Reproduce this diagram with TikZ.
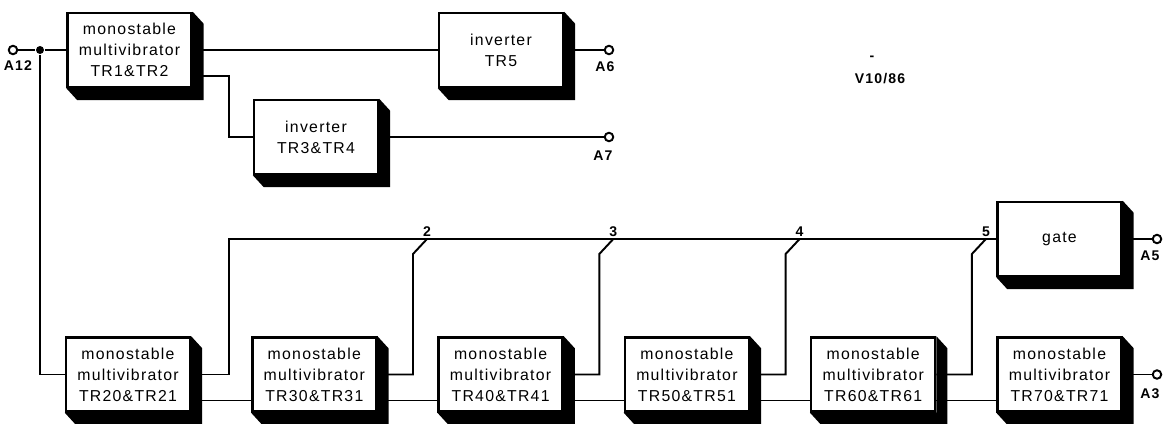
\documentclass[tikz,border=0pt]{standalone}
\usepackage{fontspec}
\setmainfont[LetterSpace=8]{Liberation Sans}
\usetikzlibrary{calc}

\begin{document}
\begin{tikzpicture}[x=0.02cm, y=-0.02cm, line width=1.1pt]
        \tikzstyle{block} = [rectangle, draw, fill=white, line width=1.4pt, minimum width=2.48cm, minimum height=1.48cm, align=center, font=\fontsize{9}{12}\selectfont]
        \tikzstyle{term} = [circle, draw, fill=white, inner sep=0pt, minimum size=0.17cm]
        \tikzstyle{tag} = [font=\fontsize{8}{9}\selectfont\bfseries, inner sep=1pt]
        \useasboundingbox (0,0) rectangle (1163,423);

        \node[block] (mm1) at (129.5,50) {monostable\\multivibrator\\TR1\&TR2};
        \node[block] (inv5) at (501,50) {inverter\\TR5};
        \node[block] (inv34) at (316,137) {inverter\\TR3\&TR4};
        \node[block] (gate) at (1059.5,239) {gate};
        \foreach \n/\m [count=\i from 0] in {20/21,30/31,40/41,50/51,60/61,70/71}
            \node[block] (mm\n) at ({128+186.3*\i},374.5) {monostable\\multivibrator\\TR\n\&TR\m};

        % shadows
        \foreach \b in {mm1,inv5,inv34,gate,mm20,mm30,mm40,mm50,mm60,mm70}
            \fill (\b.north east) -- ++(11,12) -- ($(\b.south east)+(11,12)$) -- ($(\b.south west)+(11,12)$) -- (\b.south west) -- (\b.south east) -- cycle;

        \node[term] (tA12) at (13,50) {};
        \node[circle, fill, inner sep=0pt, minimum size=0.16cm] (dot) at (40,50) {};
        \node[term] (tA6) at (609,50) {};
        \node[term] (tA7) at (609,137) {};
        \node[term] (tA5) at (1157,239) {};
        \node[term] (tA3) at (1157,374.5) {};
        \node[tag] (lA12) at (18,66) {A12};
        \node[tag] (lA6) at (605,67) {A6};
        \node[tag] (lA7) at (603,156) {A7};
        \node[tag] (lA5) at (1150,256) {A5};
        \node[tag] (lA3) at (1150,394) {A3};
        \node[tag] (dash) at (872,58) {-};
        \node[tag] (vref) at (880,79) {V10/86};

        \draw (tA12) -- (dot) -- (mm1);
        \draw (dot) |- (mm20);
        \draw (mm1) -- (inv5);
        \draw ($(mm1.east)+(0,26)$) -- ++(36,0) |- (inv34);
        \draw (inv5) -- (tA6);
        \draw (inv34) -- (tA7);
        \draw (gate) -- (tA5);
        \draw (mm70) -- (tA3);
        \draw (mm20.east) -- ++(38,0) |- (gate);

        \coordinate (j2) at (427,239);
        \coordinate (j3) at (613.3,239);
        \coordinate (j4) at (799.6,239);
        \coordinate (j5) at (985.9,239);
        \draw (mm30.east) -| ($(j2)+(-14,15)$) -- (j2);
        \draw (mm40.east) -| ($(j3)+(-14,15)$) -- (j3);
        \draw (mm50.east) -| ($(j4)+(-14,15)$) -- (j4);
        \draw (mm60.east) -| ($(j5)+(-14,15)$) -- (j5);
        \node[tag, above] (n2) at (j2) {2};
        \node[tag, above] (n3) at (j3) {3};
        \node[tag, above] (n4) at (j4) {4};
        \node[tag, above] (n5) at (j5) {5};

        \foreach \a/\b in {20/30,30/40,40/50,50/60,60/70}
            \draw ($(mm\a.east)+(0,26)$) -- ($(mm\b.west)+(0,26)$);
    \end{tikzpicture}
\end{document}
